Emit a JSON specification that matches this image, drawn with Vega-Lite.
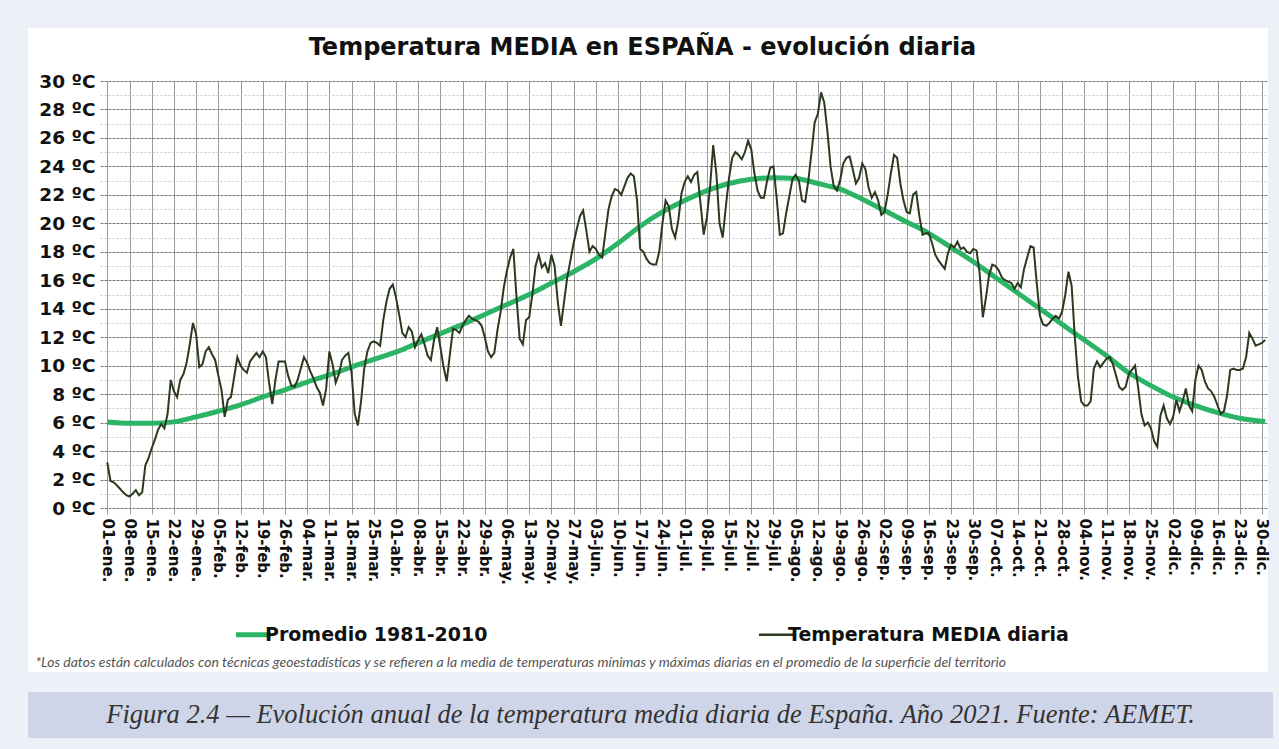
{
  "$schema": "https://vega.github.io/schema/vega-lite/v6.json",
  "background": "#eef0f8",
  "padding": {"left": 28, "top": 28, "right": 6, "bottom": 11},
  "spacing": 20,
  "datasets": {
    "diaria": [
      {"dia":0,"temp":3.2},{"dia":1,"temp":1.9},{"dia":2,"temp":1.8},{"dia":3,"temp":1.6},{"dia":4,"temp":1.35},{"dia":5,"temp":1.1},{"dia":6,"temp":0.9},{"dia":7,"temp":0.8},{"dia":8,"temp":1.0},{"dia":9,"temp":1.25},
      {"dia":10,"temp":0.9},{"dia":11,"temp":1.1},{"dia":12,"temp":3.0},{"dia":13,"temp":3.5},{"dia":14,"temp":4.2},{"dia":15,"temp":4.8},{"dia":16,"temp":5.5},{"dia":17,"temp":5.9},{"dia":18,"temp":5.6},{"dia":19,"temp":6.6},
      {"dia":20,"temp":9.0},{"dia":21,"temp":8.2},{"dia":22,"temp":7.8},{"dia":23,"temp":9.0},{"dia":24,"temp":9.4},{"dia":25,"temp":10.2},{"dia":26,"temp":11.5},{"dia":27,"temp":13.0},{"dia":28,"temp":12.2},{"dia":29,"temp":9.9},
      {"dia":30,"temp":10.1},{"dia":31,"temp":11.0},{"dia":32,"temp":11.3},{"dia":33,"temp":10.8},{"dia":34,"temp":10.4},{"dia":35,"temp":9.3},{"dia":36,"temp":8.3},{"dia":37,"temp":6.4},{"dia":38,"temp":7.6},{"dia":39,"temp":7.8},
      {"dia":40,"temp":9.2},{"dia":41,"temp":10.6},{"dia":42,"temp":10.0},{"dia":43,"temp":9.7},{"dia":44,"temp":9.5},{"dia":45,"temp":10.3},{"dia":46,"temp":10.6},{"dia":47,"temp":10.9},{"dia":48,"temp":10.6},{"dia":49,"temp":11.0},
      {"dia":50,"temp":10.6},{"dia":51,"temp":8.8},{"dia":52,"temp":7.3},{"dia":53,"temp":9.0},{"dia":54,"temp":10.3},{"dia":55,"temp":10.3},{"dia":56,"temp":10.3},{"dia":57,"temp":9.3},{"dia":58,"temp":8.6},{"dia":59,"temp":8.5},
      {"dia":60,"temp":9.0},{"dia":61,"temp":9.8},{"dia":62,"temp":10.6},{"dia":63,"temp":10.2},{"dia":64,"temp":9.6},{"dia":65,"temp":9.1},{"dia":66,"temp":8.5},{"dia":67,"temp":8.1},{"dia":68,"temp":7.2},{"dia":69,"temp":8.4},
      {"dia":70,"temp":11.0},{"dia":71,"temp":10.1},{"dia":72,"temp":8.8},{"dia":73,"temp":9.4},{"dia":74,"temp":10.4},{"dia":75,"temp":10.7},{"dia":76,"temp":10.9},{"dia":77,"temp":9.5},{"dia":78,"temp":6.6},{"dia":79,"temp":5.8},
      {"dia":80,"temp":7.5},{"dia":81,"temp":9.8},{"dia":82,"temp":11.0},{"dia":83,"temp":11.6},{"dia":84,"temp":11.7},{"dia":85,"temp":11.6},{"dia":86,"temp":11.4},{"dia":87,"temp":13.2},{"dia":88,"temp":14.5},{"dia":89,"temp":15.4},
      {"dia":90,"temp":15.7},{"dia":91,"temp":14.8},{"dia":92,"temp":13.6},{"dia":93,"temp":12.3},{"dia":94,"temp":12.0},{"dia":95,"temp":12.7},{"dia":96,"temp":12.4},{"dia":97,"temp":11.3},{"dia":98,"temp":11.8},{"dia":99,"temp":12.2},
      {"dia":100,"temp":11.5},{"dia":101,"temp":10.7},{"dia":102,"temp":10.4},{"dia":103,"temp":11.8},{"dia":104,"temp":12.7},{"dia":105,"temp":11.3},{"dia":106,"temp":9.9},{"dia":107,"temp":8.9},{"dia":108,"temp":10.8},{"dia":109,"temp":12.6},
      {"dia":110,"temp":12.5},{"dia":111,"temp":12.3},{"dia":112,"temp":12.8},{"dia":113,"temp":13.2},{"dia":114,"temp":13.5},{"dia":115,"temp":13.3},{"dia":116,"temp":13.2},{"dia":117,"temp":13.1},{"dia":118,"temp":12.8},{"dia":119,"temp":12.0},
      {"dia":120,"temp":11.0},{"dia":121,"temp":10.6},{"dia":122,"temp":10.9},{"dia":123,"temp":12.5},{"dia":124,"temp":13.8},{"dia":125,"temp":15.5},{"dia":126,"temp":16.7},{"dia":127,"temp":17.6},{"dia":128,"temp":18.2},{"dia":129,"temp":14.8},
      {"dia":130,"temp":11.9},{"dia":131,"temp":11.5},{"dia":132,"temp":13.2},{"dia":133,"temp":13.4},{"dia":134,"temp":15.0},{"dia":135,"temp":17.0},{"dia":136,"temp":17.8},{"dia":137,"temp":16.9},{"dia":138,"temp":17.2},{"dia":139,"temp":16.5},
      {"dia":140,"temp":17.8},{"dia":141,"temp":17.0},{"dia":142,"temp":14.5},{"dia":143,"temp":12.8},{"dia":144,"temp":14.5},{"dia":145,"temp":16.2},{"dia":146,"temp":17.4},{"dia":147,"temp":18.6},{"dia":148,"temp":19.6},{"dia":149,"temp":20.5},
      {"dia":150,"temp":20.9},{"dia":151,"temp":19.5},{"dia":152,"temp":18.0},{"dia":153,"temp":18.4},{"dia":154,"temp":18.2},{"dia":155,"temp":17.8},{"dia":156,"temp":17.6},{"dia":157,"temp":19.3},{"dia":158,"temp":21.0},{"dia":159,"temp":21.9},
      {"dia":160,"temp":22.4},{"dia":161,"temp":22.3},{"dia":162,"temp":22.0},{"dia":163,"temp":22.6},{"dia":164,"temp":23.2},{"dia":165,"temp":23.5},{"dia":166,"temp":23.3},{"dia":167,"temp":21.6},{"dia":168,"temp":18.2},{"dia":169,"temp":18.0},
      {"dia":170,"temp":17.5},{"dia":171,"temp":17.2},{"dia":172,"temp":17.1},{"dia":173,"temp":17.1},{"dia":174,"temp":18.0},{"dia":175,"temp":20.0},{"dia":176,"temp":21.6},{"dia":177,"temp":21.2},{"dia":178,"temp":19.6},{"dia":179,"temp":19.0},
      {"dia":180,"temp":20.2},{"dia":181,"temp":22.1},{"dia":182,"temp":22.9},{"dia":183,"temp":23.3},{"dia":184,"temp":22.9},{"dia":185,"temp":23.4},{"dia":186,"temp":23.6},{"dia":187,"temp":21.4},{"dia":188,"temp":19.2},{"dia":189,"temp":20.4},
      {"dia":190,"temp":22.5},{"dia":191,"temp":25.5},{"dia":192,"temp":23.5},{"dia":193,"temp":20.0},{"dia":194,"temp":19.0},{"dia":195,"temp":21.2},{"dia":196,"temp":23.2},{"dia":197,"temp":24.6},{"dia":198,"temp":25.0},{"dia":199,"temp":24.8},
      {"dia":200,"temp":24.5},{"dia":201,"temp":25.0},{"dia":202,"temp":25.8},{"dia":203,"temp":25.2},{"dia":204,"temp":23.5},{"dia":205,"temp":22.3},{"dia":206,"temp":21.8},{"dia":207,"temp":21.8},{"dia":208,"temp":23.0},{"dia":209,"temp":23.9},
      {"dia":210,"temp":24.0},{"dia":211,"temp":21.8},{"dia":212,"temp":19.2},{"dia":213,"temp":19.3},{"dia":214,"temp":20.7},{"dia":215,"temp":21.9},{"dia":216,"temp":23.1},{"dia":217,"temp":23.4},{"dia":218,"temp":23.0},{"dia":219,"temp":21.6},
      {"dia":220,"temp":21.5},{"dia":221,"temp":23.0},{"dia":222,"temp":25.0},{"dia":223,"temp":27.1},{"dia":224,"temp":27.7},{"dia":225,"temp":29.2},{"dia":226,"temp":28.5},{"dia":227,"temp":26.5},{"dia":228,"temp":24.0},{"dia":229,"temp":22.6},
      {"dia":230,"temp":22.3},{"dia":231,"temp":23.0},{"dia":232,"temp":24.2},{"dia":233,"temp":24.6},{"dia":234,"temp":24.7},{"dia":235,"temp":23.8},{"dia":236,"temp":22.8},{"dia":237,"temp":23.2},{"dia":238,"temp":24.2},{"dia":239,"temp":23.8},
      {"dia":240,"temp":22.5},{"dia":241,"temp":21.8},{"dia":242,"temp":22.2},{"dia":243,"temp":21.6},{"dia":244,"temp":20.6},{"dia":245,"temp":20.8},{"dia":246,"temp":22.0},{"dia":247,"temp":23.5},{"dia":248,"temp":24.8},{"dia":249,"temp":24.6},
      {"dia":250,"temp":22.8},{"dia":251,"temp":21.6},{"dia":252,"temp":20.8},{"dia":253,"temp":20.7},{"dia":254,"temp":22.0},{"dia":255,"temp":22.2},{"dia":256,"temp":20.5},{"dia":257,"temp":19.2},{"dia":258,"temp":19.3},{"dia":259,"temp":19.3},
      {"dia":260,"temp":18.6},{"dia":261,"temp":17.8},{"dia":262,"temp":17.4},{"dia":263,"temp":17.1},{"dia":264,"temp":16.8},{"dia":265,"temp":17.9},{"dia":266,"temp":18.5},{"dia":267,"temp":18.3},{"dia":268,"temp":18.7},{"dia":269,"temp":18.2},
      {"dia":270,"temp":18.3},{"dia":271,"temp":18.0},{"dia":272,"temp":17.9},{"dia":273,"temp":18.2},{"dia":274,"temp":18.1},{"dia":275,"temp":16.5},{"dia":276,"temp":13.4},{"dia":277,"temp":14.8},{"dia":278,"temp":16.4},{"dia":279,"temp":17.1},
      {"dia":280,"temp":17.0},{"dia":281,"temp":16.7},{"dia":282,"temp":16.2},{"dia":283,"temp":16.0},{"dia":284,"temp":15.9},{"dia":285,"temp":15.8},{"dia":286,"temp":15.4},{"dia":287,"temp":15.8},{"dia":288,"temp":15.5},{"dia":289,"temp":16.8},
      {"dia":290,"temp":17.6},{"dia":291,"temp":18.4},{"dia":292,"temp":18.3},{"dia":293,"temp":15.8},{"dia":294,"temp":13.5},{"dia":295,"temp":12.9},{"dia":296,"temp":12.8},{"dia":297,"temp":13.0},{"dia":298,"temp":13.3},{"dia":299,"temp":13.5},
      {"dia":300,"temp":13.3},{"dia":301,"temp":13.8},{"dia":302,"temp":15.0},{"dia":303,"temp":16.6},{"dia":304,"temp":15.6},{"dia":305,"temp":12.0},{"dia":306,"temp":9.2},{"dia":307,"temp":7.5},{"dia":308,"temp":7.2},{"dia":309,"temp":7.2},
      {"dia":310,"temp":7.5},{"dia":311,"temp":9.8},{"dia":312,"temp":10.3},{"dia":313,"temp":9.9},{"dia":314,"temp":10.2},{"dia":315,"temp":10.5},{"dia":316,"temp":10.6},{"dia":317,"temp":10.1},{"dia":318,"temp":9.3},{"dia":319,"temp":8.5},
      {"dia":320,"temp":8.3},{"dia":321,"temp":8.5},{"dia":322,"temp":9.4},{"dia":323,"temp":9.7},{"dia":324,"temp":10.0},{"dia":325,"temp":8.4},{"dia":326,"temp":6.6},{"dia":327,"temp":5.8},{"dia":328,"temp":6.0},{"dia":329,"temp":5.6},
      {"dia":330,"temp":4.7},{"dia":331,"temp":4.3},{"dia":332,"temp":6.5},{"dia":333,"temp":7.2},{"dia":334,"temp":6.3},{"dia":335,"temp":5.9},{"dia":336,"temp":6.4},{"dia":337,"temp":7.6},{"dia":338,"temp":6.8},{"dia":339,"temp":7.5},
      {"dia":340,"temp":8.4},{"dia":341,"temp":7.2},{"dia":342,"temp":6.8},{"dia":343,"temp":9.0},{"dia":344,"temp":10.0},{"dia":345,"temp":9.7},{"dia":346,"temp":8.9},{"dia":347,"temp":8.4},{"dia":348,"temp":8.2},{"dia":349,"temp":7.8},
      {"dia":350,"temp":7.2},{"dia":351,"temp":6.6},{"dia":352,"temp":6.8},{"dia":353,"temp":7.9},{"dia":354,"temp":9.7},{"dia":355,"temp":9.8},{"dia":356,"temp":9.7},{"dia":357,"temp":9.7},{"dia":358,"temp":9.8},{"dia":359,"temp":10.6},
      {"dia":360,"temp":12.3},{"dia":361,"temp":11.9},{"dia":362,"temp":11.4},{"dia":363,"temp":11.5},{"dia":364,"temp":11.6},{"dia":365,"temp":11.8}
    ],
    "promedio": [
      {"dia":0,"temp":6.05},{"dia":7,"temp":5.95},{"dia":14,"temp":5.95},{"dia":21,"temp":6.05},{"dia":28,"temp":6.4},{"dia":35,"temp":6.8},{"dia":42,"temp":7.25},{"dia":49,"temp":7.8},
      {"dia":56,"temp":8.3},{"dia":63,"temp":8.85},{"dia":70,"temp":9.35},{"dia":77,"temp":9.9},{"dia":84,"temp":10.45},{"dia":91,"temp":10.95},{"dia":98,"temp":11.6},{"dia":105,"temp":12.25},
      {"dia":112,"temp":12.9},{"dia":119,"temp":13.6},{"dia":126,"temp":14.3},{"dia":133,"temp":15.0},{"dia":140,"temp":15.8},{"dia":147,"temp":16.6},{"dia":154,"temp":17.5},{"dia":161,"temp":18.6},
      {"dia":168,"temp":19.8},{"dia":175,"temp":20.8},{"dia":182,"temp":21.6},{"dia":189,"temp":22.3},{"dia":196,"temp":22.8},{"dia":203,"temp":23.1},{"dia":210,"temp":23.2},{"dia":217,"temp":23.15},
      {"dia":224,"temp":22.8},{"dia":231,"temp":22.4},{"dia":238,"temp":21.7},{"dia":245,"temp":20.9},{"dia":252,"temp":20.1},{"dia":259,"temp":19.3},{"dia":266,"temp":18.3},{"dia":273,"temp":17.3},
      {"dia":280,"temp":16.2},{"dia":287,"temp":15.1},{"dia":294,"temp":14.0},{"dia":301,"temp":12.9},{"dia":308,"temp":11.8},{"dia":315,"temp":10.7},{"dia":322,"temp":9.5},{"dia":329,"temp":8.6},
      {"dia":336,"temp":7.8},{"dia":343,"temp":7.2},{"dia":350,"temp":6.7},{"dia":357,"temp":6.3},{"dia":364,"temp":6.1},{"dia":365,"temp":6.08}
    ]
  },
  "vconcat": [
    {
      "width": 1240,
      "height": 644,
      "view": {"fill": "white", "stroke": null},
      "resolve": {"axis": {"x": "independent"}},
      "encoding": {
        "y": {
          "field": "temp", "type": "quantitative",
          "scale": {"domain": [0, 30], "range": [480, 53], "nice": false, "zero": false},
          "axis": {
            "orient": "left", "offset": -72, "title": null,
            "values": [0,1,2,3,4,5,6,7,8,9,10,11,12,13,14,15,16,17,18,19,20,21,22,23,24,25,26,27,28,29,30],
            "labelExpr": "datum.value % 2 === 0 ? datum.value + ' ºC' : ''",
            "labelFont": "DejaVu Sans", "labelFontWeight": "bold", "labelFontSize": 18.5, "labelColor": "#111111",
            "labelPadding": 5, "labelOverlap": false, "labelFlush": false,
            "ticks": false, "domain": false, "grid": true,
            "gridColor": {"condition": {"test": "datum.value % 2 === 1", "value": "#c8c8c8"}, "value": "#7a7a7a"},
            "gridDash": {"condition": {"test": "datum.value % 2 === 1", "value": [2, 2]}, "value": [3, 1]}
          }
        }
      },
      "layer": [
        {
          "data": {"name": "promedio"},
          "mark": {"type": "line", "strokeWidth": 5, "interpolate": "monotone"},
          "encoding": {
            "x": {
              "field": "dia", "type": "quantitative",
              "scale": {"domain": [-2.3, 365.9], "range": [72, 1240], "nice": false, "zero": false},
              "axis": {
                "orient": "bottom", "offset": -164,
                "values": [0,7,14,21,28,35,42,49,56,63,70,77,84,91,98,105,112,119,126,133,140,147,154,161,168,175,182,189,196,203,210,217,224,231,238,245,252,259,266,273,280,287,294,301,308,315,322,329,336,343,350,357,364],
                "labelExpr": "timeFormat(datetime(2020, 0, 1 + datum.value), '%d') + '-' + ['ene','feb','mar','abr','may','jun','jul','ago','sep','oct','nov','dic'][month(datetime(2020, 0, 1 + datum.value))] + '.'",
                "labelAngle": 90, "labelAlign": "left", "labelBaseline": "middle", "labelPadding": 4,
                "labelFont": "DejaVu Sans", "labelFontWeight": "bold", "labelFontSize": 15, "labelColor": "#111111",
                "labelOverlap": false, "labelFlush": false, "labelBound": false,
                "ticks": true, "tickSize": 6, "tickColor": "#9a9a9a", "domain": false, "grid": false,
                "title": "*Los datos están calculados con técnicas geoestadísticas y se refieren a la media de temperaturas mínimas y máximas diarias en el promedio de la superficie del territorio",
                "titleX": 7, "titleY": 158, "titleAlign": "left", "titleAnchor": "start", "titleBaseline": "alphabetic",
                "titleFont": "Lato", "titleFontStyle": "italic", "titleFontWeight": "normal", "titleFontSize": 14, "titleColor": "#555555"
              }
            },
            "color": {
              "datum": "Promedio 1981-2010",
              "scale": {"domain": ["Promedio 1981-2010", "Temperatura MEDIA diaria"], "range": ["#2bb466", "#2b3a1e"]},
              "legend": {
                "orient": "none", "legendX": 216, "legendY": 597, "direction": "horizontal", "title": null,
                "symbolType": "stroke", "symbolSize": 1225, "symbolStrokeWidth": 4,
                "labelFont": "DejaVu Sans", "labelFontWeight": "bold", "labelFontSize": 19, "labelColor": "#111111",
                "labelOffset": 2, "columnPadding": 266, "padding": 0, "labelLimit": 400,
                "encode": {"symbols": {"update": {"strokeWidth": {"signal": "datum.value === 'Promedio 1981-2010' ? 5 : 2.5"}}}}
              }
            }
          }
        },
        {
          "data": {"name": "diaria"},
          "mark": {"type": "line", "strokeWidth": 2},
          "encoding": {
            "x": {
              "field": "dia", "type": "quantitative",
              "scale": {"domain": [-2.3, 365.9], "range": [72, 1240], "nice": false, "zero": false},
              "axis": {
                "orient": "top", "offset": 0,
                "values": [0,7,14,21,28,35,42,49,56,63,70,77,84,91,98,105,112,119,126,133,140,147,154,161,168,175,182,189,196,203,210,217,224,231,238,245,252,259,266,273,280,287,294,301,308,315,322,329,336,343,350,357,364],
                "labels": false, "ticks": false, "domain": false,
                "grid": true, "gridColor": "#9a9a9a", "gridWidth": 1,
                "title": "Temperatura MEDIA en ESPAÑA - evolución diaria",
                "titleX": 614, "titleY": 26, "titleAlign": "center", "titleAnchor": "middle", "titleBaseline": "alphabetic",
                "titleFont": "DejaVu Sans", "titleFontSize": 24, "titleFontWeight": "bold", "titleColor": "#111111"
              }
            },
            "color": {"datum": "Temperatura MEDIA diaria"}
          }
        }
      ]
    },
    {
      "width": 1245,
      "height": 46,
      "view": {"fill": "#cfd5e8", "stroke": null},
      "data": {"values": [{"texto": "Figura 2.4 — Evolución anual de la temperatura media diaria de España. Año 2021. Fuente: AEMET."}]},
      "mark": {"type": "text", "font": "Liberation Serif", "fontStyle": "italic", "fontSize": 26.5, "color": "#333333", "baseline": "middle", "align": "center"},
      "encoding": {"text": {"field": "texto", "type": "nominal"}}
    }
  ],
  "config": {"view": {"stroke": null}}
}
